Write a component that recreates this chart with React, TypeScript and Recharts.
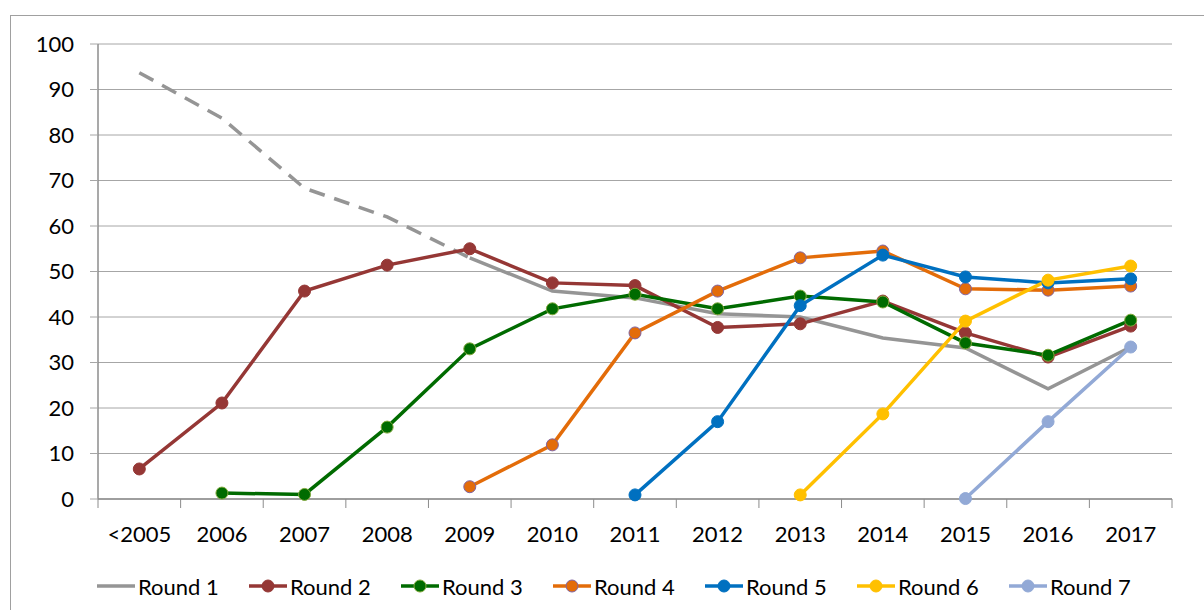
import React from 'react';
import { LineChart, Line, XAxis, YAxis, CartesianGrid, Legend } from 'recharts';

const categories = ['<2005', '2006', '2007', '2008', '2009', '2010', '2011', '2012', '2013', '2014', '2015', '2016', '2017'];
const yTicks = [0, 10, 20, 30, 40, 50, 60, 70, 80, 90, 100];

// Round 1 is dashed up to 2009 (index 4), solid afterwards
const round1 = [93.7, 83.7, 68.3, 62, 53, 45.7, 44.2, 40.7, 40, 35.4, 33.2, 24.2, 33.4];
const round1DashEnd = 4;
const round2 = [6.6, 21.1, 45.7, 51.4, 55, 47.5, 46.9, 37.7, 38.5, 43.5, 36.5, 31.2, 38];
const round3 = [null, 1.3, 1.0, 15.8, 33, 41.8, 45, 41.8, 44.6, 43.3, 34.3, 31.6, 39.3];
const round4 = [null, null, null, null, 2.7, 11.9, 36.5, 45.7, 53, 54.5, 46.2, 45.9, 46.8];
const round5 = [null, null, null, null, null, null, 0.9, 17, 42.5, 53.6, 48.8, 47.5, 48.4];
const round6 = [null, null, null, null, null, null, null, null, 0.9, 18.7, 39.1, 48.1, 51.2];
const round7 = [null, null, null, null, null, null, null, null, null, null, 0.1, 17, 33.4];

const data = categories.map((cat, i) => ({
  cat,
  r1a: i <= round1DashEnd ? round1[i] : null,
  r1b: i >= round1DashEnd ? round1[i] : null,
  r2: round2[i],
  r3: round3[i],
  r4: round4[i],
  r5: round5[i],
  r6: round6[i],
  r7: round7[i],
}));

const series = [
  { key: 'r2', name: 'Round 2', color: '#953735', dotStroke: '#953735' },
  { key: 'r3', name: 'Round 3', color: '#006B00', dotStroke: '#7FA83A' },
  { key: 'r4', name: 'Round 4', color: '#E36C09', dotStroke: '#8064A2' },
  { key: 'r5', name: 'Round 5', color: '#0070C0', dotStroke: '#0070C0' },
  { key: 'r6', name: 'Round 6', color: '#FFC000', dotStroke: '#FFC000' },
  { key: 'r7', name: 'Round 7', color: '#92A9D6', dotStroke: '#92A9D6' },
];

const grey = '#959595';
const axisGrey = '#8C8C8C';
// plot is 1074px wide, 13 categories -> half a band on each side
const halfBand = 1074 / categories.length / 2;
const labelGap = 27;

// category label plus the small separator ticks at the band edges (Excel style)
const CatTick = (props: any) => {
  const { x, y, payload, index } = props;
  const axisY = y - labelGap;
  return (
    <g>
      <line x1={x - halfBand} y1={axisY} x2={x - halfBand} y2={axisY + 9} stroke={axisGrey} />
      {index === categories.length - 1 && (
        <line x1={x + halfBand} y1={axisY} x2={x + halfBand} y2={axisY + 9} stroke={axisGrey} />
      )}
      <text x={x} y={y} dy="0.71em" textAnchor="middle" fill="#000" fontSize={22}>
        {payload.value}
      </text>
    </g>
  );
};

const legendItems = [{ name: 'Round 1', color: grey, dotStroke: '' }, ...series];

const renderLegend = () => (
  <div style={{ display: 'flex', alignItems: 'center', height: 30, paddingLeft: 97 }}>
    {legendItems.map((s) => (
      <div key={s.name} style={{ width: 152, display: 'flex', alignItems: 'center' }}>
        <svg width={38} height={14}>
          <line x1={0} y1={7} x2={38} y2={7} stroke={s.color} strokeWidth={3.5} />
          {s.dotStroke && <circle cx={19} cy={7} r={6} fill={s.color} stroke={s.dotStroke} strokeWidth={1} />}
        </svg>
        <span style={{ marginLeft: 3, fontSize: 22, color: '#000' }}>{s.name}</span>
      </div>
    ))}
  </div>
);

export default function App() {
  return (
    <div style={{ position: 'fixed', top: 0, left: 0, width: 1204, height: 610, overflow: 'hidden', background: '#fff', fontFamily: 'Lato, sans-serif' }}>
      <div style={{ position: 'absolute', left: 10, top: 15, width: 1400, height: 800, border: '1px solid #A0A0A0' }} />
      <LineChart width={1204} height={610} data={data} margin={{ top: 44, right: 32, left: 10, bottom: 9 }}>
        <CartesianGrid vertical={false} stroke="#A6A6A6" />
        <XAxis
          dataKey="cat"
          tickLine={false}
          axisLine={{ stroke: axisGrey, strokeWidth: 1.5 }}
          tick={<CatTick />}
          tickSize={0}
          tickMargin={labelGap}
          height={72}
          interval={0}
          padding={{ left: halfBand, right: halfBand }}
        />
        <YAxis
          domain={[0, 100]}
          ticks={yTicks}
          width={88}
          axisLine={{ stroke: axisGrey, strokeWidth: 1.5 }}
          tickLine={{ stroke: '#A6A6A6' }}
          tickSize={8}
          tickMargin={16}
          tick={{ fill: '#000', fontSize: 22 }}
          interval={0}
        />
        <Legend verticalAlign="bottom" content={renderLegend} wrapperStyle={{ left: 0, width: 1204 }} />
        <Line dataKey="r1a" name="Round 1" stroke={grey} strokeWidth={3.5} strokeDasharray="16 10" dot={false} legendType="none" isAnimationActive={false} />
        <Line dataKey="r1b" name="Round 1" stroke={grey} strokeWidth={3.5} dot={false} isAnimationActive={false} />
        {series.map((s) => (
          <Line
            key={s.key}
            dataKey={s.key}
            name={s.name}
            stroke={s.color}
            strokeWidth={3.5}
            dot={{ r: 6, fill: s.color, stroke: s.dotStroke, strokeWidth: 1 }}
            activeDot={false}
            isAnimationActive={false}
          />
        ))}
      </LineChart>
    </div>
  );
}
